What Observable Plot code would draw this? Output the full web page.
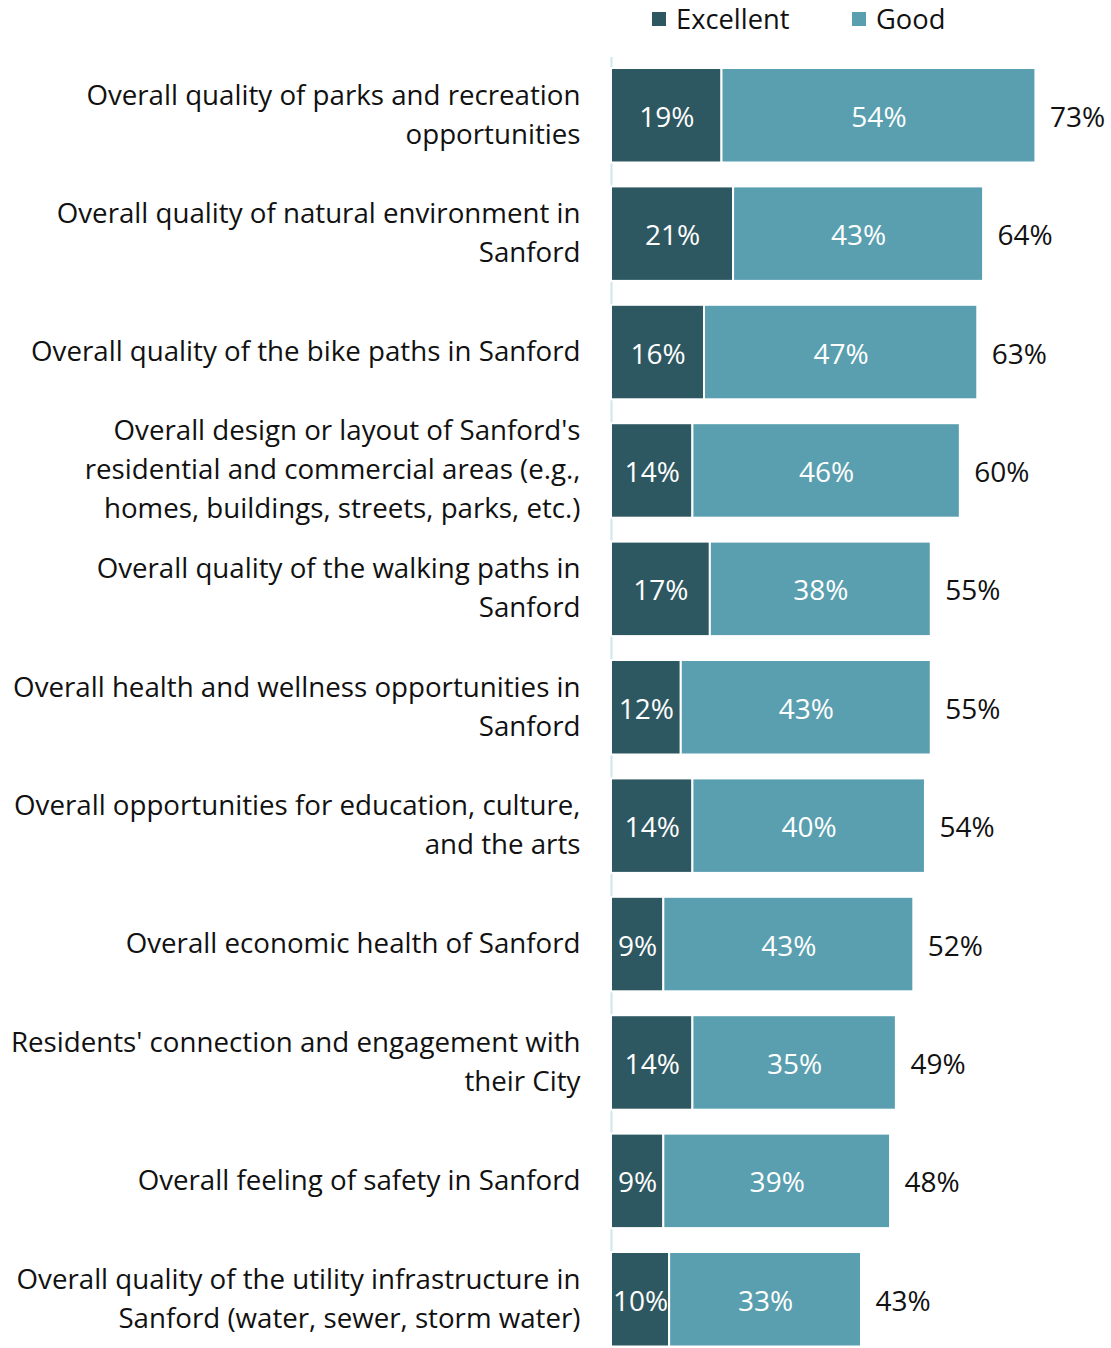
<!DOCTYPE html>
<html>
<head>
<meta charset="utf-8">
<script src="https://cdn.jsdelivr.net/npm/d3@7"></script>
<script src="https://cdn.jsdelivr.net/npm/@observablehq/plot@0.6"></script>
<style>
  html, body { margin: 0; padding: 0; background: #fff; }
  #wrap { position: relative; width: 1111px; height: 1348px; font-family: "Open Sans", sans-serif; }
  #legend { position: relative; height: 50px; width: 1111px; }
  .li { position: absolute; top: 0px; font-size: 27.3px; color: #111; display: flex; align-items: center; }
  .sw { width: 14px; height: 14px; margin-right: 10px; display: inline-block; }
  svg { display: block; }
</style>
</head>
<body>
<div id="wrap">
  <div id="legend"></div>
  <div id="chart"></div>
</div>
<script>
const categories = [
  "Overall quality of parks and recreation opportunities",
  "Overall quality of natural environment in Sanford",
  "Overall quality of the bike paths in Sanford",
  "Overall design or layout of Sanford's residential and commercial areas (e.g., homes, buildings, streets, parks, etc.)",
  "Overall quality of the walking paths in Sanford",
  "Overall health and wellness opportunities in Sanford",
  "Overall opportunities for education, culture, and the arts",
  "Overall economic health of Sanford",
  "Residents' connection and engagement with their City",
  "Overall feeling of safety in Sanford",
  "Overall quality of the utility infrastructure in Sanford (water, sewer, storm water)"
];
const categoryLabels = [
  "Overall quality of parks and recreation\nopportunities",
  "Overall quality of natural environment in\nSanford",
  "Overall quality of the bike paths in Sanford",
  "Overall design or layout of Sanford's\nresidential and commercial areas (e.g.,\nhomes, buildings, streets, parks, etc.)",
  "Overall quality of the walking paths in\nSanford",
  "Overall health and wellness opportunities in\nSanford",
  "Overall opportunities for education, culture,\nand the arts",
  "Overall economic health of Sanford",
  "Residents' connection and engagement with\ntheir City",
  "Overall feeling of safety in Sanford",
  "Overall quality of the utility infrastructure in\nSanford (water, sewer, storm water)"
];
const seriesNames = ["Excellent", "Good"];
const excellent = [19, 21, 16, 14, 17, 12, 14, 9, 14, 9, 10];
const good = [54, 43, 47, 46, 38, 43, 40, 43, 35, 39, 33];
const totals = [73, 64, 63, 60, 55, 55, 54, 52, 49, 48, 43];
const colors = ["#2e5861", "#5a9fb0"];

const rows = [];
categories.forEach((c, i) => {
  rows.push({cat: c, type: "Excellent", value: excellent[i]});
  rows.push({cat: c, type: "Good", value: good[i]});
});
const totalRows = categories.map((c, i) => ({cat: c, total: totals[i], label: categoryLabels[i]}));

// legend
const legend = document.getElementById("legend");
[[652, 0], [852, 1]].forEach(([x, i]) => {
  const d = document.createElement("div");
  d.className = "li";
  d.style.left = x + "px";
  d.innerHTML = `<span class="sw" style="background:${colors[i]}"></span>${seriesNames[i]}`;
  legend.appendChild(d);
});

const FS = 27.7;
const VFS = 28;
const chart = Plot.plot({
  width: 1111,
  height: 1298,
  marginLeft: 611,
  marginRight: 0,
  marginTop: 7,
  marginBottom: 0,
  style: {fontFamily: "'Open Sans', sans-serif", fontSize: FS + "px", background: "#fff"},
  x: {domain: [0, 86], axis: null},
  y: {domain: categories, range: [6.16, 1308.34], paddingInner: 0.202, paddingOuter: 0.1, round: false, axis: null},
  color: {domain: seriesNames, range: colors},
  marks: [
    Plot.ruleX([0], {stroke: "#cfe7e5", strokeWidth: 2}),
    Plot.barX(rows, Plot.stackX({x: "value", y: "cat", fill: "type", stroke: "#fff", strokeWidth: 2})),
    Plot.text(rows, Plot.stackX({x: "value", y: "cat", z: "type", text: d => d.value + "%", fill: "#fff", fontSize: VFS, dy: 2})),
    Plot.text(totalRows, {x: "total", y: "cat", text: d => d.total + "%", dx: 14, dy: 2, textAnchor: "start", fill: "#111", fontSize: VFS}),
    Plot.text(totalRows, {x: 0, y: "cat", text: "label", dx: -31, dy: -4, textAnchor: "end", fill: "#111", fontSize: FS, lineHeight: 39 / FS})
  ]
});
document.getElementById("chart").appendChild(chart);
</script>
</body>
</html>
